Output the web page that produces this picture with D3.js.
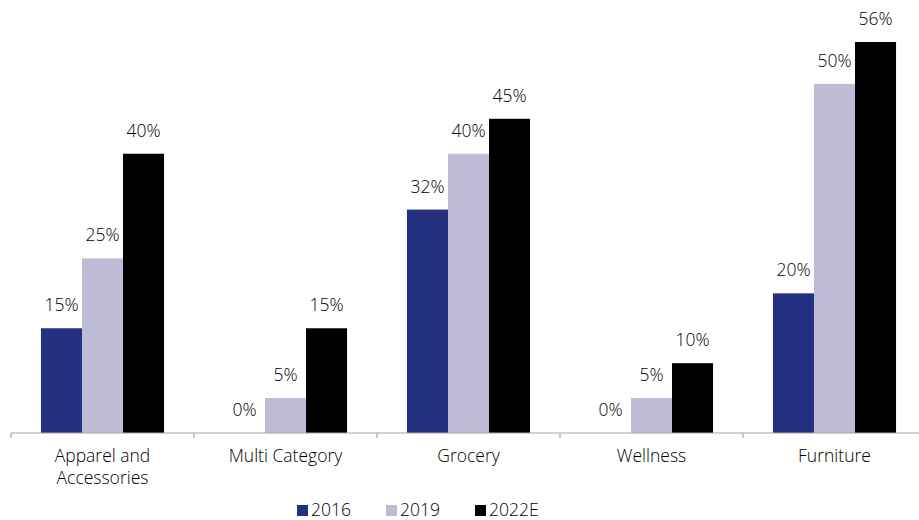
<!DOCTYPE html>
<html>
<head>
<meta charset="utf-8">
<script src="https://cdn.jsdelivr.net/npm/d3@7"></script>
<style>
  html, body { margin: 0; padding: 0; background: #fff; }
  svg { display: block; font-family: "Open Sans", "Noto Sans", sans-serif; font-weight: 300; }
</style>
</head>
<body>
<svg id="chart" width="919" height="520"></svg>
<script>
// Online share by retail category
const categories = [["Apparel and", "Accessories"], ["Multi Category"], ["Grocery"], ["Wellness"], ["Furniture"]];
const seriesNames = ["2016", "2019", "2022E"];
const values2016 = [15, 0, 32, 0, 20];
const values2019 = [25, 5, 40, 5, 50];
const values2022E = [40, 15, 45, 10, 56];
const seriesColors = ["#22307F", "#BEBCD4", "#000000"];

const series = [values2016, values2019, values2022E];

const svg = d3.select("#chart");
const baseY = 433;
const fontSize = 17.5;
const catKeys = categories.map(c => c.join(" "));

const x = d3.scaleBand().domain(catKeys).range([11, 926]).paddingInner(0).paddingOuter(0);
const xInner = d3.scaleBand().domain(seriesNames).range([0, x.bandwidth()]).paddingOuter(0.73).paddingInner(0);
const y = d3.scaleLinear().domain([0, 56]).range([baseY, 42]);

// bars
const groups = svg.append("g").selectAll("g")
  .data(catKeys)
  .join("g")
  .attr("transform", d => `translate(${x(d)},0)`);

const cells = (d, i) => seriesNames.map((s, j) => ({ s, v: series[j][i], j }));

groups.selectAll("rect")
  .data(cells)
  .join("rect")
  .attr("x", d => xInner(d.s))
  .attr("width", xInner.bandwidth())
  .attr("y", d => y(d.v))
  .attr("height", d => baseY - y(d.v))
  .attr("fill", d => seriesColors[d.j]);

groups.selectAll("text.val")
  .data(cells)
  .join("text")
  .attr("class", "val")
  .attr("x", d => xInner(d.s) + xInner.bandwidth() / 2)
  .attr("y", d => y(d.v) - 17)
  .attr("text-anchor", "middle")
  .attr("font-size", fontSize)
  .attr("fill", "#000")
  .text(d => d.v + "%");

// x axis
const axis = svg.append("g").attr("transform", `translate(0,${baseY})`);
axis.append("line")
  .attr("x1", 11).attr("x2", 919)
  .attr("stroke", "#A6A6A6").attr("stroke-width", 1.2);
axis.selectAll("line.tick")
  .data(catKeys)
  .join("line")
  .attr("class", "tick")
  .attr("x1", d => x(d)).attr("x2", d => x(d))
  .attr("y1", 0).attr("y2", 5)
  .attr("stroke", "#A6A6A6").attr("stroke-width", 1.2);

const labels = svg.append("g").selectAll("text")
  .data(categories)
  .join("text")
  .attr("x", (d, i) => x(catKeys[i]) + x.bandwidth() / 2)
  .attr("y", 462)
  .attr("text-anchor", "middle")
  .attr("font-size", fontSize)
  .attr("fill", "#000");
labels.selectAll("tspan")
  .data(d => d)
  .join("tspan")
  .attr("x", function () { return this.parentNode.getAttribute("x"); })
  .attr("dy", (d, i) => i === 0 ? 0 : 22)
  .text(d => d);

// legend
const legendX = [297, 386, 475];
const legend = svg.append("g").selectAll("g")
  .data(seriesNames)
  .join("g")
  .attr("transform", (d, i) => `translate(${legendX[i]},505)`);
legend.append("rect")
  .attr("width", 11).attr("height", 11)
  .attr("fill", (d, i) => seriesColors[i]);
legend.append("text")
  .attr("x", 14).attr("y", 11)
  .attr("font-size", fontSize)
  .attr("fill", "#000")
  .text(d => d);
</script>
</body>
</html>
